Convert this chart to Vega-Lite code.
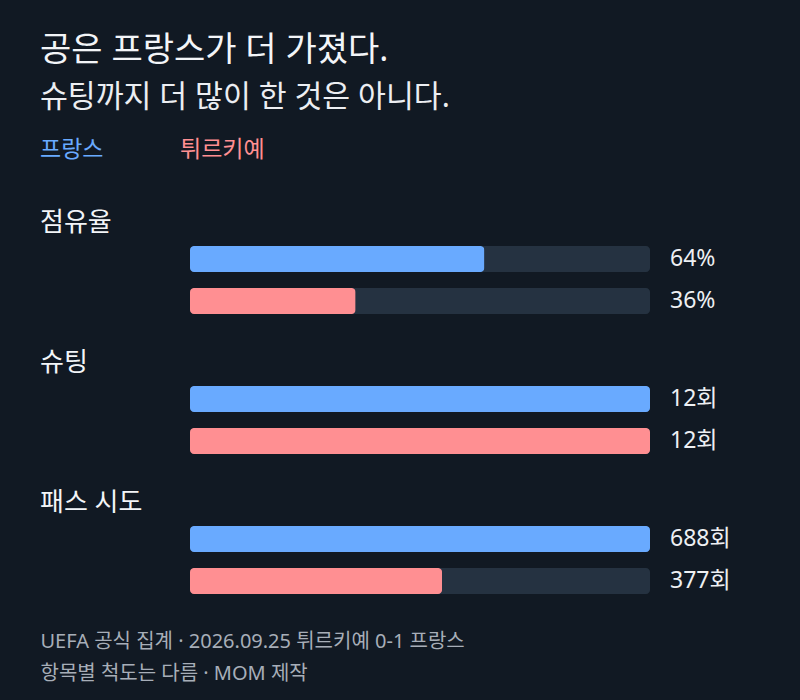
{
  "$schema": "https://vega.github.io/schema/vega-lite/v6.json",
  "background": "#111923",
  "padding": {"left": 40, "top": 33, "right": 0, "bottom": 30},
  "autosize": {"type": "pad"},
  "title": {
    "text": "공은 프랑스가 더 가졌다.",
    "subtitle": "슈팅까지 더 많이 한 것은 아니다.",
    "anchor": "start",
    "font": "Noto Sans, Noto Sans CJK KR",
    "fontSize": 34,
    "fontWeight": "normal",
    "color": "#f3f5f8",
    "subtitleFont": "Noto Sans, Noto Sans CJK KR",
    "subtitleFontSize": 30.3,
    "subtitleColor": "#eceef2",
    "subtitlePadding": 15,
    "offset": 5
  },
  "config": {
    "view": {"stroke": null},
    "font": "Noto Sans, Noto Sans CJK KR",
    "concat": {"spacing": 28}
  },
  "datasets": {
    "teams": [
      {"team": "프랑스"},
      {"team": "튀르키예"}
    ],
    "stats": [
      {"metric": "점유율", "team": "프랑스", "value": 64, "label": "64%"},
      {"metric": "점유율", "team": "튀르키예", "value": 36, "label": "36%"},
      {"metric": "슈팅", "team": "프랑스", "value": 12, "label": "12회"},
      {"metric": "슈팅", "team": "튀르키예", "value": 12, "label": "12회"},
      {"metric": "패스 시도", "team": "프랑스", "value": 688, "label": "688회"},
      {"metric": "패스 시도", "team": "튀르키예", "value": 377, "label": "377회"}
    ]
  },
  "vconcat": [
    {
      "width": 760,
      "height": 64,
      "data": {"name": "teams"},
      "mark": {"type": "text", "align": "left", "baseline": "middle", "fontSize": 23},
      "encoding": {
        "x": {"field": "team", "type": "nominal", "sort": ["프랑스", "튀르키예"], "scale": {"type": "point", "range": [0, 140], "padding": 0}, "axis": null},
        "text": {"field": "team"},
        "color": {"field": "team", "type": "nominal", "scale": {"domain": ["프랑스", "튀르키예"], "range": ["#69aaff", "#ff8f92"]}, "legend": null}
      }
    },
    {
      "width": 760,
      "height": {"step": 42},
      "title": {"text": "점유율", "anchor": "start", "fontSize": 26, "fontWeight": "normal", "color": "#f3f5f8", "offset": 2},
      "data": {"name": "stats"},
      "transform": [{"filter": "datum.metric === '점유율'"}],
      "encoding": {
        "y": {"field": "team", "type": "nominal", "sort": ["프랑스", "튀르키예"], "scale": {"paddingInner": 0.38, "paddingOuter": 0.19}, "axis": null}
      },
      "layer": [
        {
          "mark": {"type": "bar", "color": "#253241", "cornerRadius": 4},
          "encoding": {"x": {"datum": 100, "type": "quantitative", "scale": {"domain": [0, 100], "range": [150, 610], "nice": false, "zero": true}, "axis": null}}
        },
        {
          "mark": {"type": "bar", "cornerRadius": 4},
          "encoding": {
            "x": {"field": "value", "type": "quantitative"},
            "color": {"field": "team", "type": "nominal", "scale": {"domain": ["프랑스", "튀르키예"], "range": ["#69aaff", "#ff8f92"]}, "legend": null}
          }
        },
        {
          "mark": {"type": "text", "align": "left", "baseline": "middle", "dx": 20, "fontSize": 23, "color": "#eef0f3"},
          "encoding": {"x": {"datum": 100, "type": "quantitative"}, "text": {"field": "label"}}
        }
      ]
    },
    {
      "width": 760,
      "height": {"step": 42},
      "title": {"text": "슈팅", "anchor": "start", "fontSize": 26, "fontWeight": "normal", "color": "#f3f5f8", "offset": 2},
      "data": {"name": "stats"},
      "transform": [{"filter": "datum.metric === '슈팅'"}],
      "encoding": {
        "y": {"field": "team", "type": "nominal", "sort": ["프랑스", "튀르키예"], "scale": {"paddingInner": 0.38, "paddingOuter": 0.19}, "axis": null}
      },
      "layer": [
        {
          "mark": {"type": "bar", "color": "#253241", "cornerRadius": 4},
          "encoding": {"x": {"datum": 12, "type": "quantitative", "scale": {"domain": [0, 12], "range": [150, 610], "nice": false, "zero": true}, "axis": null}}
        },
        {
          "mark": {"type": "bar", "cornerRadius": 4},
          "encoding": {
            "x": {"field": "value", "type": "quantitative"},
            "color": {"field": "team", "type": "nominal", "scale": {"domain": ["프랑스", "튀르키예"], "range": ["#69aaff", "#ff8f92"]}, "legend": null}
          }
        },
        {
          "mark": {"type": "text", "align": "left", "baseline": "middle", "dx": 20, "fontSize": 23, "color": "#eef0f3"},
          "encoding": {"x": {"datum": 12, "type": "quantitative"}, "text": {"field": "label"}}
        }
      ]
    },
    {
      "width": 760,
      "height": {"step": 42},
      "title": {"text": "패스 시도", "anchor": "start", "fontSize": 26, "fontWeight": "normal", "color": "#f3f5f8", "offset": 2},
      "data": {"name": "stats"},
      "transform": [{"filter": "datum.metric === '패스 시도'"}],
      "encoding": {
        "y": {"field": "team", "type": "nominal", "sort": ["프랑스", "튀르키예"], "scale": {"paddingInner": 0.38, "paddingOuter": 0.19}, "axis": null}
      },
      "layer": [
        {
          "mark": {"type": "bar", "color": "#253241", "cornerRadius": 4},
          "encoding": {
            "x": {
              "datum": 688,
              "type": "quantitative",
              "scale": {"domain": [0, 688], "range": [150, 610], "nice": false, "zero": true},
              "axis": {
                "title": ["UEFA 공식 집계 · 2026.09.25 튀르키예 0-1 프랑스", "항목별 척도는 다름 · MOM 제작"],
                "titleX": 0,
                "titleAlign": "left",
                "titleAnchor": "start",
                "titleBaseline": "top",
                "titleFontSize": 20,
                "titleFontWeight": "normal",
                "titleColor": "#a7aeb8",
                "titleLineHeight": 32,
                "titlePadding": 29,
                "labels": false,
                "ticks": false,
                "domain": false,
                "grid": false
              }
            }
          }
        },
        {
          "mark": {"type": "bar", "cornerRadius": 4},
          "encoding": {
            "x": {"field": "value", "type": "quantitative"},
            "color": {"field": "team", "type": "nominal", "scale": {"domain": ["프랑스", "튀르키예"], "range": ["#69aaff", "#ff8f92"]}, "legend": null}
          }
        },
        {
          "mark": {"type": "text", "align": "left", "baseline": "middle", "dx": 20, "fontSize": 23, "color": "#eef0f3"},
          "encoding": {"x": {"datum": 688, "type": "quantitative"}, "text": {"field": "label"}}
        }
      ]
    }
  ],
  "resolve": {"scale": {"x": "independent"}}
}
